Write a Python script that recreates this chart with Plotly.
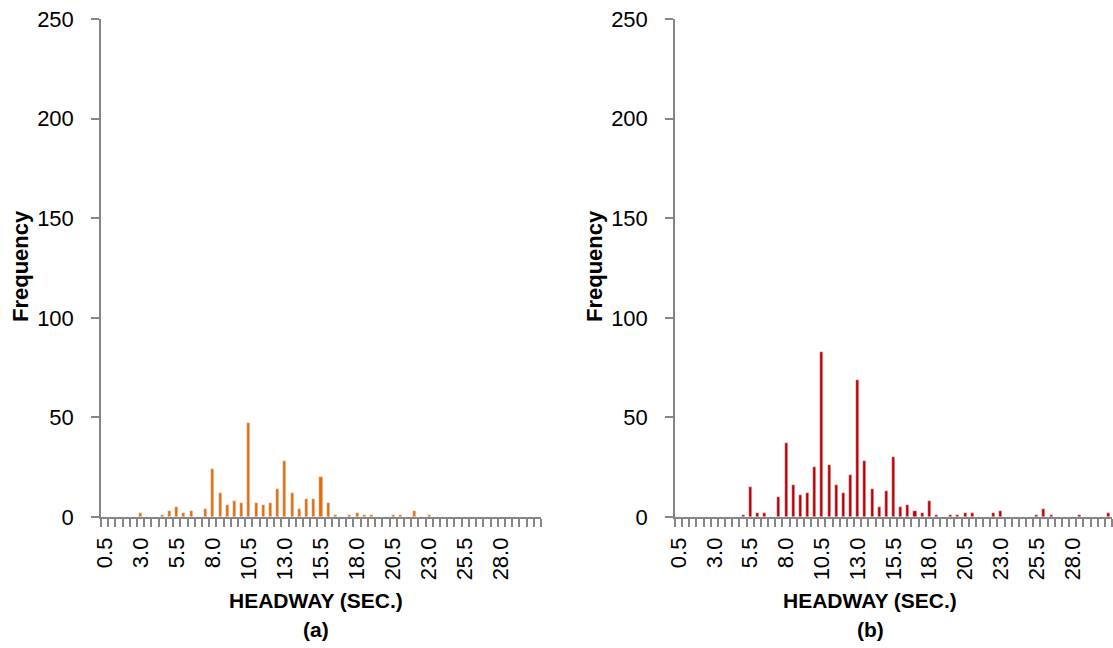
import plotly.graph_objects as go

# Headway bins (sec.)
headway = [round(0.5 + 0.5 * i, 1) for i in range(61)]

freq_a = [0, 0, 0, 0, 0, 2, 0, 0, 1, 3,
          5, 2, 3, 0, 4, 24, 12, 6, 8, 7,
          47, 7, 6, 7, 14, 28, 12, 4, 9, 9,
          20, 7, 1, 0, 1, 2, 1, 1, 0, 0,
          1, 1, 0, 3, 0, 1, 0, 0, 0, 0,
          0, 0, 0, 0, 0, 0, 0, 0, 0, 0, 0]

freq_b = [0, 0, 0, 0, 0, 0, 0, 0, 0, 1,
          15, 2, 2, 0, 10, 37, 16, 11, 12, 25,
          83, 26, 16, 12, 21, 69, 28, 14, 5, 13,
          30, 5, 6, 3, 2, 8, 1, 0, 1, 1,
          2, 2, 0, 0, 2, 3, 0, 0, 0, 0,
          1, 4, 1, 0, 0, 0, 1, 0, 0, 0, 2]

tick_vals = [0.5, 3.0, 5.5, 8.0, 10.5, 13.0, 15.5, 18.0, 20.5, 23.0, 25.5, 28.0]
tick_text = [f"{v:.1f}" for v in tick_vals]
y_ticks = [0, 50, 100, 150, 200, 250]

FONT = "Liberation Sans"
AXC = "#868686"

fig = go.Figure()
fig.add_trace(go.Bar(x=headway, y=freq_a, marker_color="#E46C0A", width=0.21,
                     xaxis="x", yaxis="y", showlegend=False))
fig.add_trace(go.Bar(x=headway, y=freq_b, marker_color="#C00000", width=0.21,
                     xaxis="x2", yaxis="y2", showlegend=False))

W, H = 1113, 648
ydom = [(H - 517) / H, (H - 19) / H]

def xax(domain, anchor):
    return dict(domain=domain, anchor=anchor, range=[0.25, 30.75],
                automargin=False,
                tickmode="array", tickvals=tick_vals, ticktext=tick_text,
                tickangle=-90, ticks="", showgrid=False, zeroline=False,
                showline=True, linecolor=AXC, linewidth=1.5,
                tickfont=dict(family=FONT, size=22, color="#000"),
                ticklabelstandoff=10,
                minor=dict(tickmode="linear", tick0=0.25, dtick=0.5,
                           ticks="outside", ticklen=8, tickcolor=AXC, tickwidth=1.5,
                           showgrid=False))

def yax(anchor):
    return dict(domain=ydom, anchor=anchor, range=[0, 250], tickmode="array",
                automargin=False,
                tickvals=y_ticks, ticks="outside", ticklen=8, tickcolor=AXC,
                tickwidth=1.5, showgrid=False, zeroline=False, showline=True,
                linecolor=AXC, linewidth=1.5,
                tickfont=dict(family=FONT, size=22, color="#000"),
                ticklabelstandoff=13)

fig.update_layout(
    width=W, height=H,
    margin=dict(l=0, r=0, t=0, b=0, pad=0),
    paper_bgcolor="white", plot_bgcolor="white",
    bargap=0,
    xaxis=xax([101 / W, 541 / W], "y"),
    yaxis=yax("x"),
    xaxis2=xax([675 / W, 1112 / W], "y2"),
    yaxis2=yax("x2"),
)

def ann(x, y, text, size, angle=0):
    fig.add_annotation(x=x / W, y=1 - y / H, xref="paper", yref="paper",
                       text=text, showarrow=False, textangle=angle,
                       font=dict(family=FONT, size=size, color="#000"),
                       xanchor="center", yanchor="middle")

ann(20, 266, "<b>Frequency</b>", 22, -90)
ann(594, 266, "<b>Frequency</b>", 22, -90)
ann(316, 600, "<b>HEADWAY (SEC.)</b>", 21)
ann(316, 629, "<b>(a)</b>", 21)
ann(870, 600, "<b>HEADWAY (SEC.)</b>", 21)
ann(870, 629, "<b>(b)</b>", 21)

fig.write_html("out.html")
